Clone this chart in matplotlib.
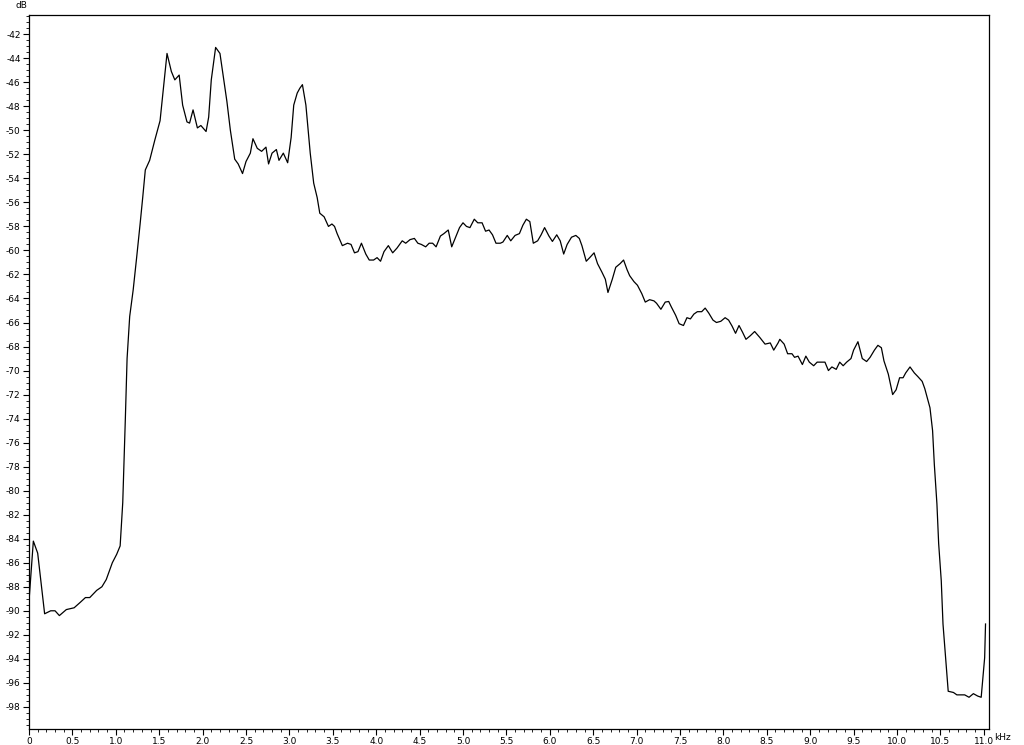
import numpy as np
import matplotlib
matplotlib.use('Agg')
from matplotlib import pyplot as plt
from matplotlib.ticker import MultipleLocator

# spectrum (kHz, dB)
freq_khz = [
    0.00, 0.05, 0.10, 0.18, 0.25, 0.30, 0.35, 0.43, 0.52, 0.59, 0.65, 0.70,
    0.78, 0.84, 0.89, 0.96, 1.01, 1.05, 1.08, 1.11, 1.13, 1.16, 1.20, 1.24,
    1.28, 1.31, 1.34, 1.39, 1.45, 1.51, 1.55, 1.59, 1.64, 1.68, 1.73, 1.77,
    1.82, 1.85, 1.89, 1.94, 1.98, 2.04, 2.07, 2.10, 2.15, 2.20, 2.24, 2.28,
    2.32, 2.37, 2.41, 2.46, 2.50, 2.55, 2.58, 2.63, 2.68, 2.73, 2.76, 2.80,
    2.85, 2.88, 2.93, 2.98, 3.02, 3.05, 3.09, 3.12, 3.15, 3.19, 3.24, 3.28,
    3.32, 3.35, 3.40, 3.45, 3.49, 3.52, 3.55, 3.61, 3.67, 3.71, 3.75, 3.79,
    3.83, 3.88, 3.92, 3.97, 4.01, 4.05, 4.09, 4.14, 4.19, 4.24, 4.30, 4.34,
    4.39, 4.44, 4.48, 4.52, 4.57, 4.61, 4.65, 4.69, 4.74, 4.78, 4.83, 4.87,
    4.92, 4.96, 5.00, 5.04, 5.08, 5.13, 5.17, 5.22, 5.26, 5.30, 5.34, 5.38,
    5.43, 5.46, 5.51, 5.55, 5.60, 5.65, 5.69, 5.73, 5.77, 5.81, 5.86, 5.90,
    5.94, 5.99, 6.03, 6.08, 6.12, 6.16, 6.20, 6.25, 6.30, 6.34, 6.37, 6.42,
    6.46, 6.51, 6.55, 6.60, 6.64, 6.67, 6.72, 6.76, 6.81, 6.85, 6.89, 6.92,
    6.97, 7.01, 7.06, 7.10, 7.15, 7.20, 7.23, 7.28, 7.33, 7.37, 7.40, 7.45,
    7.49, 7.54, 7.58, 7.62, 7.66, 7.70, 7.75, 7.79, 7.83, 7.88, 7.92, 7.97,
    8.02, 8.06, 8.10, 8.14, 8.18, 8.22, 8.26, 8.31, 8.36, 8.42, 8.48, 8.54,
    8.58, 8.63, 8.65, 8.70, 8.74, 8.79, 8.82, 8.86, 8.91, 8.95, 8.99, 9.04,
    9.08, 9.13, 9.17, 9.21, 9.25, 9.30, 9.34, 9.38, 9.42, 9.47, 9.50, 9.55,
    9.60, 9.65, 9.69, 9.74, 9.78, 9.82, 9.85, 9.90, 9.95, 9.99, 10.03, 10.07,
    10.10, 10.15, 10.20, 10.24, 10.29, 10.32, 10.35, 10.38, 10.41, 10.43,
    10.46, 10.48, 10.51, 10.53, 10.56, 10.59, 10.65, 10.69, 10.74, 10.78,
    10.83, 10.88, 10.93, 10.97, 11.01, 11.02,
]
level_db = [
    -89.2, -84.2, -85.2, -90.25, -90.0, -90.0, -90.4, -89.9, -89.75, -89.3, -88.9, -88.9,
    -88.3, -88.0, -87.4, -86.0, -85.3, -84.6, -81.0, -74.0, -69.0, -65.5, -63.3, -60.6,
    -57.8, -55.6, -53.3, -52.5, -50.8, -49.2, -46.4, -43.6, -45.1, -45.8, -45.4, -47.9,
    -49.3, -49.4, -48.3, -49.8, -49.6, -50.1, -48.9, -45.8, -43.1, -43.6, -45.6, -47.6,
    -50.0, -52.4, -52.8, -53.6, -52.6, -51.9, -50.7, -51.5, -51.75, -51.4, -52.8, -51.9,
    -51.6, -52.5, -51.9, -52.7, -50.6, -47.9, -46.9, -46.5, -46.2, -47.9, -51.9, -54.4,
    -55.6, -56.9, -57.2, -58.0, -57.8, -58.0, -58.6, -59.6, -59.4, -59.5, -60.2, -60.1,
    -59.4, -60.3, -60.8, -60.8, -60.6, -60.9, -60.1, -59.6, -60.2, -59.8, -59.2, -59.4,
    -59.1, -59.0, -59.4, -59.5, -59.7, -59.4, -59.4, -59.7, -58.8, -58.6, -58.3, -59.7,
    -58.8, -58.1, -57.7, -58.0, -58.1, -57.4, -57.7, -57.7, -58.4, -58.3, -58.7, -59.4,
    -59.4, -59.3, -58.75, -59.2, -58.75, -58.6, -57.9, -57.4, -57.6, -59.4, -59.2, -58.7,
    -58.1, -58.8, -59.25, -58.7, -59.2, -60.3, -59.5, -58.9, -58.75, -59.0, -59.6, -60.9,
    -60.6, -60.2, -61.1, -61.8, -62.4, -63.5, -62.4, -61.4, -61.1, -60.8, -61.6, -62.1,
    -62.6, -62.9, -63.6, -64.3, -64.1, -64.2, -64.4, -64.9, -64.3, -64.25, -64.7, -65.4,
    -66.1, -66.25, -65.6, -65.7, -65.3, -65.1, -65.1, -64.8, -65.2, -65.8, -66.0, -65.9,
    -65.6, -65.8, -66.3, -66.9, -66.25, -66.8, -67.4, -67.1, -66.75, -67.25, -67.8, -67.7,
    -68.3, -67.7, -67.4, -67.8, -68.6, -68.6, -68.9, -68.8, -69.5, -68.8, -69.3, -69.6,
    -69.3, -69.3, -69.3, -70.0, -69.7, -69.9, -69.3, -69.6, -69.3, -69.0, -68.3, -67.6,
    -69.0, -69.25, -68.9, -68.3, -67.9, -68.1, -69.2, -70.3, -72.0, -71.6, -70.6, -70.6,
    -70.2, -69.7, -70.2, -70.5, -70.9, -71.5, -72.3, -73.1, -75.0, -77.8,
    -81.1, -84.4, -87.5, -91.1, -93.9, -96.7, -96.8, -97.0, -97.0, -97.0,
    -97.2, -96.9, -97.1, -97.2, -93.9, -91.1,
]

x_ticks = np.arange(0, 11.01, 0.5)
x_labels = ['0'] + ['%.1f' % v for v in x_ticks[1:]]
y_ticks = np.arange(-98, -41, 2)

fig = plt.figure(figsize=(10.24, 7.45), dpi=100)
ax = fig.add_axes([29 / 1024, 1 - 728.5 / 745, 960 / 1024, 713.5 / 745])

ax.plot(freq_khz, level_db, color='black', linewidth=0.9)

ax.set_xlim(0, 11.06)
ax.set_ylim(-99.8, -40.4)

ax.set_xticks(x_ticks)
ax.set_xticklabels(x_labels)
ax.set_yticks(y_ticks)
ax.set_yticklabels(['%d' % v for v in y_ticks])
ax.xaxis.set_minor_locator(MultipleLocator(0.1))
ax.yaxis.set_minor_locator(MultipleLocator(0.5))

ax.tick_params(which='major', direction='out', length=4, width=0.8,
               labelsize=6.5, pad=2, colors='black')
ax.tick_params(which='minor', direction='out', length=2, width=0.6)

for s in ax.spines.values():
    s.set_linewidth(0.9)
    s.set_color('black')

fig.text(15 / 1024, 1 - 5 / 745, 'dB', fontsize=6.5, ha='left', va='center')
fig.text(994 / 1024, 1 - 737 / 745, 'kHz', fontsize=6.5, ha='left', va='center')

fig.savefig('out.png', dpi=100, facecolor='white')
